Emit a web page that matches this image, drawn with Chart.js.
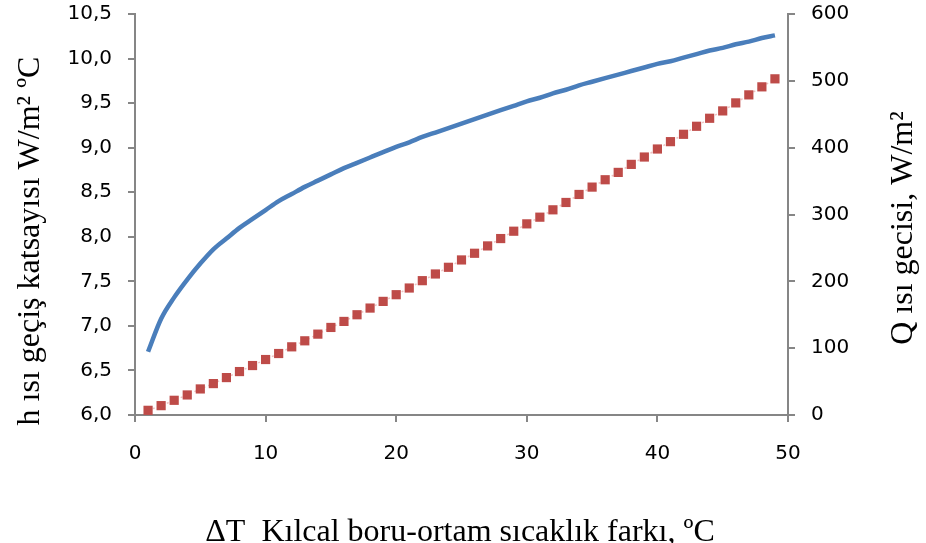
<!DOCTYPE html>
<html>
<head>
<meta charset="utf-8">
<script src="https://cdn.jsdelivr.net/npm/chart.js@4.4.0/dist/chart.umd.min.js"></script>
<style>
  body { margin: 0; background: #fff; }
  #wrap { width: 926px; height: 543px; }
</style>
</head>
<body>
<div id="wrap"><canvas id="hChart" width="926" height="543"></canvas></div>
<script>
// delta T values (x axis)
const deltaT = [1,2,3,4,5,6,7,8,9,10,11,12,13,14,15,16,17,18,19,20,21,22,23,24,25,
  26,27,28,29,30,31,32,33,34,35,36,37,38,39,40,41,42,43,44,45,46,47,48,49];

// h heat transfer coefficient, left axis
const hValues = [6.71,7.08,7.32,7.52,7.70,7.86,7.98,8.10,8.20,8.30,8.40,8.48,8.56,8.63,8.70,
  8.77,8.83,8.89,8.95,9.01,9.06,9.12,9.17,9.22,9.27,9.32,9.37,9.42,9.47,9.52,
  9.56,9.61,9.65,9.70,9.74,9.78,9.82,9.86,9.90,9.94,9.97,10.01,10.05,10.09,10.12,
  10.16,10.19,10.23,10.26];

// Q heat flux, right axis
const qValues = [7,14,22,30,39,47,56,65,74,83,92,102,111,121,131,140,150,160,170,180,
  190,201,211,221,232,242,253,264,275,286,296,307,318,330,341,352,363,375,386,398,
  409,420,432,444,455,467,479,491,503];

const leftTitle = 'h ısı geçiş katsayısı W/m² ºC';
const rightTitle = 'Q ısı gecisi, W/m²';
const bottomTitle = 'ΔT  Kılcal boru-ortam sıcaklık farkı, ºC';

var hPoints = deltaT.map((x, i) => ({x: x, y: hValues[i]}));
var qPoints = deltaT.map((x, i) => ({x: x, y: qValues[i]}));

var axisGray = '#868686';
var tickFont = {family: 'DejaVu Sans', size: 20};

// draws the three axis titles by hand (right one reads bottom to top)
const titlePlugin = {
  id: 'titles',
  afterDraw(chart) {
    var c = chart.ctx;
    c.save();
    c.fillStyle = '#000';
    c.font = '32px "Liberation Serif"';
    c.textAlign = 'center';
    c.textBaseline = 'middle';

    c.save();
    c.translate(31, 241);
    c.rotate(-Math.PI / 2);
    c.fillText(leftTitle, 0, 0);
    c.restore();

    c.save();
    c.translate(904, 228);
    c.rotate(-Math.PI / 2);
    c.fillText(rightTitle, 0, 0);
    c.restore();

    c.textBaseline = 'alphabetic';
    c.fillText(bottomTitle, 460, 541);
    c.restore();
  }
};

// fixed axis sizes so the plot area sits where the original one is
function fixY(w) {
  return function (s) {
    s.width = w;
    s.paddingTop = 0;
    s.paddingBottom = 0;
  };
}

const ctx = document.getElementById('hChart');
const hChart = new Chart(ctx, {
  type: 'scatter',
  data: {
    datasets: [{
      label: 'h',
      data: hPoints,
      yAxisID: 'yLeft',
      showLine: true,
      borderColor: '#4a7ebb',
      borderWidth: 4.5,
      pointRadius: 0,
      cubicInterpolationMode: 'monotone'
    },
    {
      label: 'Q',
      data: qPoints,
      yAxisID: 'yRight',
      showLine: true,
      borderColor: 'rgba(225,140,140,0.55)',
      borderWidth: 1.5,
      borderDash: [2, 3],
      pointStyle: 'rect',
      pointRadius: 6.5,
      pointBackgroundColor: '#be4b48',
      pointBorderWidth: 0
    }]
  },
  options: {
    responsive: false,
    animation: false,
    layout: {padding: {top: 14, left: 0, right: 0, bottom: 0}},
    plugins: {legend: {display: false}, tooltip: {enabled: false}},
    scales: {
      x: {
        type: 'linear',
        min: 0, max: 50,
        afterFit(s) { s.height = 128; s.paddingLeft = 0; s.paddingRight = 0; },
        ticks: {stepSize: 10, font: tickFont, color: '#000', padding: 20, maxRotation: 0},
        grid: {drawOnChartArea: false, tickLength: 7, color: axisGray, lineWidth: 2},
        border: {color: axisGray, width: 2}
      },
      yLeft: {
        position: 'left',
        min: 6, max: 10.5,
        afterFit: fixY(135),
        ticks: {
          stepSize: 0.5, font: tickFont, color: '#000', padding: 16,
          callback: v => v.toFixed(1).replace('.', ',')
        },
        grid: {drawOnChartArea: false, tickLength: 7, color: axisGray, lineWidth: 2},
        border: {color: axisGray, width: 2}
      },
      yRight: {
        position: 'right',
        min: 0, max: 600,
        afterFit: fixY(138),
        ticks: {stepSize: 100, font: tickFont, color: '#000', padding: 16},
        grid: {drawOnChartArea: false, tickLength: 7, color: axisGray, lineWidth: 2},
        border: {color: axisGray, width: 2}
      }
    }
  },
  plugins: [titlePlugin]
});
</script>
</body>
</html>
